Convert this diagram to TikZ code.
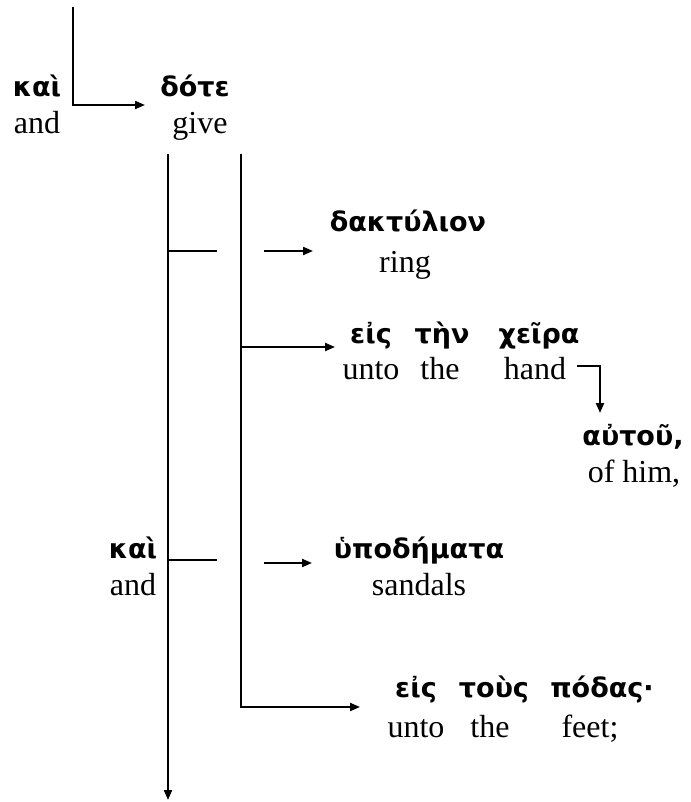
\documentclass[tikz,border=0pt]{standalone}
\usepackage{fontspec}
\setmainfont{Liberation Serif}
\newfontfamily\grkfont[Script=Greek]{DejaVu Sans}
\usetikzlibrary{arrows.meta}

\begin{document}
\begin{tikzpicture}[x=0.5pt, y=-0.5pt, line width=1pt]
	\tikzset{
		gk/.style={ anchor=base
		          , inner sep=0
		          , font=\grkfont\bfseries\fontsize{13.5}{16}\selectfont},
		en/.style={ anchor=base
		          , inner sep=0
		          , font=\fontsize{16}{19}\selectfont},
		into/.style={-{Triangle[length=5pt, width=4pt]}},
		stub/.style={line width=0.7pt}
	}
	\useasboundingbox (0, 0) rectangle (690, 802);
	
	% Words with their glosses
	\node [gk] (kaiA) at (37, 97) {καὶ};
	\node [en] (andA) at (37, 134) {and};
	\node [gk] (dote) at (195, 97) {δότε};
	\node [en] (give) at (200, 134) {give};
	
	\node [gk] (daktylion) at (408, 232) {δακτύλιον};
	\node [en] (ring) at (405, 272) {ring};
	
	\node [gk] (eisA) at (371, 343) {εἰς};
	\node [en] (untoA) at (371, 379) {unto};
	\node [gk] (ten) at (442, 343) {τὴν};
	\node [en] (theA) at (440, 379) {the};
	\node [gk] (cheira) at (539, 343) {χεῖρα};
	\node [en] (hand) at (535, 379) {hand};
	
	\node [gk] (autou) at (633, 445) {αὐτοῦ,};
	\node [en] (ofhim) at (634, 482) {of him,};
	
	\node [gk] (kaiB) at (133, 558) {καὶ};
	\node [en] (andB) at (133, 595) {and};
	\node [gk] (hypodemata) at (419, 558) {ὑποδήματα};
	\node [en] (sandals) at (419, 595) {sandals};
	
	\node [gk] (eisB) at (416, 697) {εἰς};
	\node [en] (untoB) at (416, 737) {unto};
	\node [gk] (tous) at (494, 697) {τοὺς};
	\node [en] (theB) at (490, 737) {the};
	\node [gk] (podas) at (602, 697) {πόδας·};
	\node [en] (feet) at (590, 737) {feet;};
	
	% Line ends
	\coordinate (top) at (73, 7);
	\coordinate (doteIn) at (145, 105);
	\coordinate (trunkA) at (168, 154);
	\coordinate (trunkAEnd) at (168, 800);
	\coordinate (trunkB) at (241, 154);
	\coordinate (ringStub) at (217, 251);
	\coordinate (ringOut) at (264, 251);
	\coordinate (ringIn) at (313, 251);
	\coordinate (handIn) at (335, 347);
	\coordinate (hookOut) at (577, 366);
	\coordinate (autouIn) at (600, 413);
	\coordinate (sandalsStub) at (217, 560);
	\coordinate (sandalsOut) at (264, 563);
	\coordinate (sandalsIn) at (312, 563);
	\coordinate (feetIn) at (360, 707);
	
	% Connectors
	\draw [into] (top) |- (doteIn);
	\draw [into] (trunkA) -- (trunkAEnd);
	\draw [into] (trunkB) |- (feetIn);
	\draw [into] (trunkB |- handIn) -- (handIn);
	\draw [stub] (trunkA |- ringStub) -- (ringStub);
	\draw [into] (ringOut) -- (ringIn);
	\draw [stub] (trunkA |- sandalsStub) -- (sandalsStub);
	\draw [into] (sandalsOut) -- (sandalsIn);
	\draw [into] (hookOut) -| (autouIn);
	
\end{tikzpicture}
\end{document}
